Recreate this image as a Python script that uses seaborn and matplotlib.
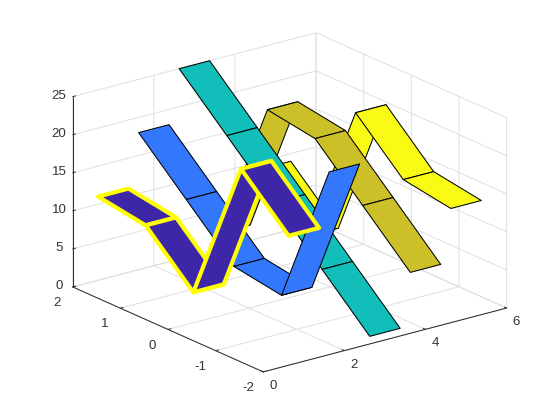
import matplotlib
matplotlib.use('Agg')
import matplotlib.pyplot as plt
import numpy as np
import seaborn as sns
from mpl_toolkits.mplot3d.art3d import Poly3DCollection

# ribbon heights along y, one list per ribbon
y_vals = [2, 1, 0, -1, -2]
ribbon_1 = [11, 10, 4, 23, 17]
ribbon_2 = [18, 12, 6, 5, 24]
ribbon_3 = [25, 19, 13, 7, 1]
ribbon_4 = [2, 21, 20, 14, 8]
ribbon_5 = [9, 3, 22, 16, 15]
ribbon_x = [1, 2, 3, 4, 5]
x_ticks = [0, 2, 4, 6]
y_ticks = [-2, -1, 0, 1, 2]
y_labels = ['-2', '-1', '0', '1', '2']
z_ticks = [0, 5, 10, 15, 20, 25]
ribbon_colors = ['#3e26a8', '#3377fd', '#12beb9', '#cbc027', '#f9fb15']

sns.set_style('white')
plt.rcParams['font.family'] = ['Liberation Sans', 'DejaVu Sans']
pal = sns.color_palette(ribbon_colors)

fig = plt.figure(figsize=(5.6, 4.2), dpi=100)
ax = fig.add_axes([4 / 560, 2 / 420, 1, 1], projection='3d', computed_zorder=False, proj_type='ortho')
ax.view_init(elev=20, azim=-127.5)
ax.set_box_aspect((0.98, 1, 0.647), zoom=1.116)

width = 0.75
all_z = [ribbon_1, ribbon_2, ribbon_3, ribbon_4, ribbon_5]
for i in range(5):
    x0 = ribbon_x[i] - width / 2
    x1 = ribbon_x[i] + width / 2
    z = all_z[i]
    polys = []
    for j in range(len(y_vals) - 1):
        polys.append([(x0, y_vals[j], z[j]), (x1, y_vals[j], z[j]),
                      (x1, y_vals[j + 1], z[j + 1]), (x0, y_vals[j + 1], z[j + 1])])
    if i == 0:
        edge, lw = 'yellow', 3.0
    else:
        edge, lw = 'black', 0.75
    coll = Poly3DCollection(polys, facecolors=pal[i], edgecolors=edge, linewidths=lw,
                            shade=False, zsort='average', zorder=10 - i)
    ax.add_collection3d(coll)

ax.set_xlim(0, 6)
ax.set_ylim(-2, 2)
ax.set_zlim(0, 25)
ax.set_xticks(x_ticks)
ax.set_yticks(y_ticks)
ax.set_yticklabels(y_labels)
ax.set_zticks(z_ticks)

for a in [ax.xaxis, ax.yaxis, ax.zaxis]:
    a.set_pane_color((1, 1, 1, 0))
    a.pane.set_edgecolor('#dcdcdc')
    a.line.set_color('#262626')
    a.line.set_linewidth(0.7)
    a._axinfo['grid']['color'] = '#dfdfdf'
    a._axinfo['grid']['linewidth'] = 0.7
    a._axinfo['tick']['inward_factor'] = 0.0
    a._axinfo['tick']['outward_factor'] = 0.15
    a._axinfo['tick']['linewidth'] = {True: 0.7, False: 0.5}
ax.tick_params(axis='both', labelsize=9.5, colors='#333333', pad=0)
ax.tick_params(axis='y', pad=2)
ax.tick_params(axis='z', pad=-3)
plt.setp(ax.get_xticklabels(), va='center')
plt.setp(ax.get_yticklabels(), va='center')
plt.setp(ax.get_zticklabels(), va='center')

fig.savefig('out.png', dpi=100)
